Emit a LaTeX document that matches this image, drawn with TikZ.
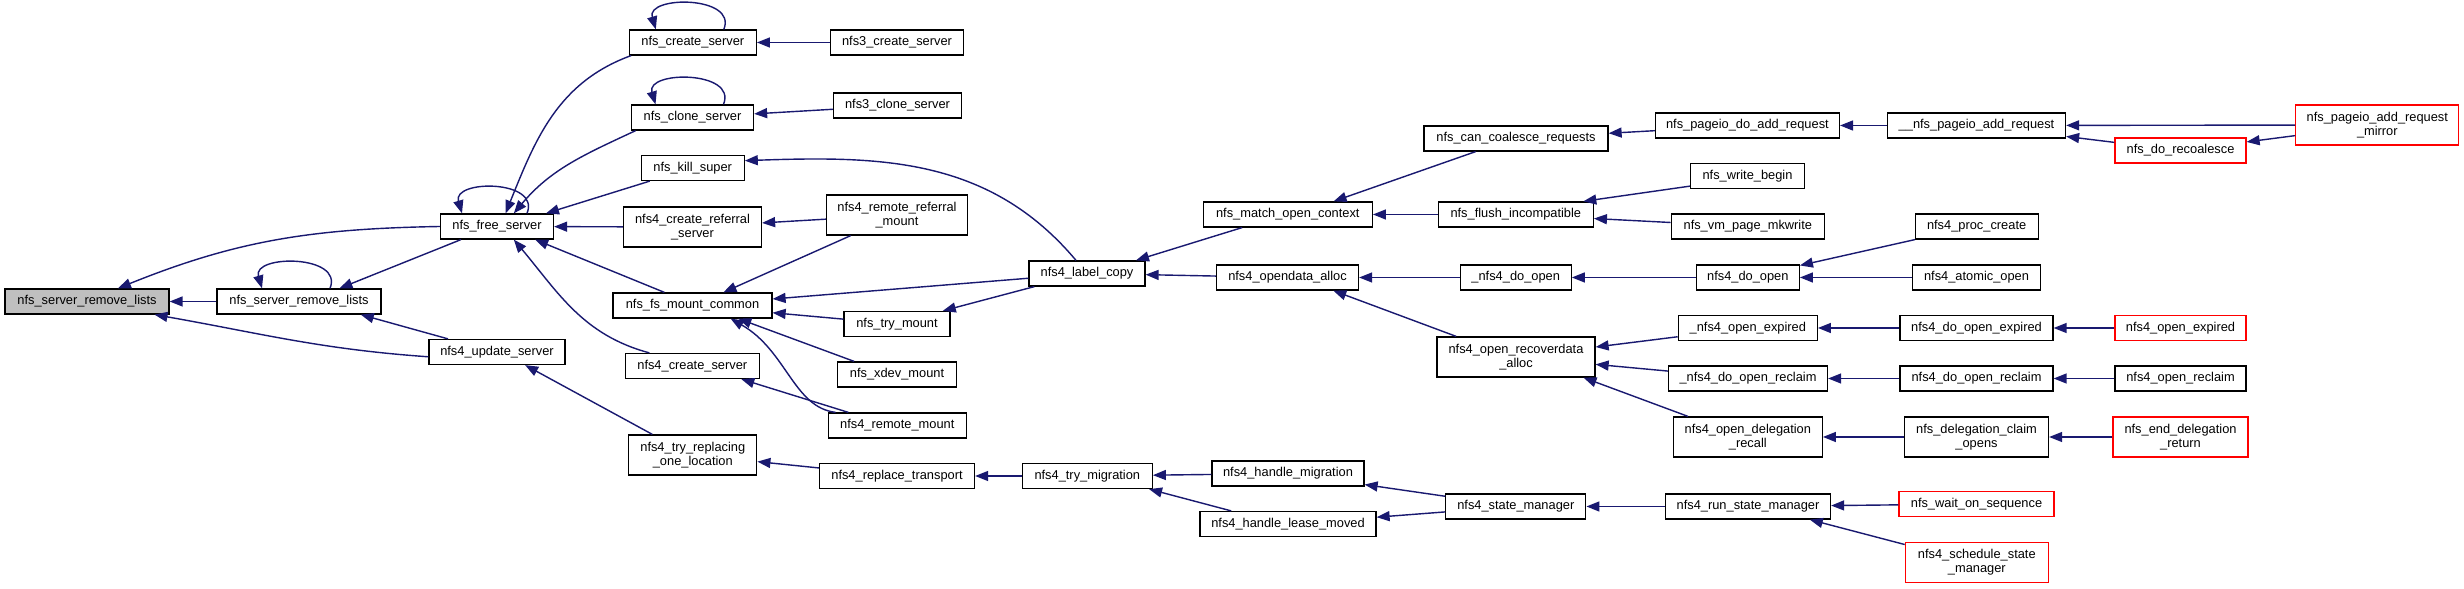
\documentclass[tikz,border=0pt]{standalone}
\usepackage{fontspec}
\setmainfont{Liberation Sans}
\usepackage{tikz}
\usetikzlibrary{arrows.meta,calc}
\definecolor{midblue}{HTML}{191970}
\definecolor{rootgrey}{HTML}{BFBFBF}
\newcommand{\fnfont}{\fontsize{3.65pt}{3.95pt}\selectfont}

\begin{document}
\begin{tikzpicture}[x=0.01cm, y=-0.01cm,
  fn/.style={draw=black, fill=white, line width=0.35pt, inner sep=0pt,
    minimum height=0.25cm, align=center, font=\fnfont},
  fntwo/.style={fn, minimum height=0.40cm},
  fnred/.style={draw=red},
  fnroot/.style={fill=rootgrey},
  wd/.style={minimum width={#1*0.01cm}},
  calls/.style={draw=midblue, line width=0.4pt,
    -{Triangle[length=0.13cm, width=0.10cm]}}]
  \useasboundingbox (0,0) rectangle (2464,589);
  % Left part
  \node[fn, fnroot, wd=164] (grl) at (87,301.5) {nfs\_server\_remove\_lists};
  \node[fn, wd=164] (srl) at (299,301.5) {nfs\_server\_remove\_lists};
  \node[fn, wd=113] (fre) at (497,226.5) {nfs\_free\_server};
  \node[fn, wd=136] (upd) at (497,352) {nfs4\_update\_server};
  % Callers of nfs_free_server
  \node[fn, wd=127] (ccs) at (692.8,42.5) {nfs\_create\_server};
  \node[fn, wd=133] (c3s) at (897,42.5) {nfs3\_create\_server};
  \node[fn, wd=122] (cls) at (692.5,117.5) {nfs\_clone\_server};
  \node[fn, wd=128] (c3l) at (897.5,105.5) {nfs3\_clone\_server};
  \node[fn, wd=103] (kil) at (692.7,168) {nfs\_kill\_super};
  \node[fntwo, wd=138] (crf) at (692.5,227) {nfs4\_create\_referral\\\_server};
  \node[fntwo, wd=141] (rrm) at (897,215) {nfs4\_remote\_referral\\\_mount};
  \node[fn, wd=116] (lab) at (1087,273.5) {nfs4\_label\_copy};
  \node[fn, wd=159] (fmc) at (692.5,305.5) {nfs\_fs\_mount\_common};
  \node[fn, wd=106] (trm) at (897,324) {nfs\_try\_mount};
  \node[fn, wd=134] (c4s) at (692.3,366) {nfs4\_create\_server};
  \node[fn, wd=119] (xdv) at (897,374.5) {nfs\_xdev\_mount};
  \node[fn, wd=138] (rmm) at (897.3,425.5) {nfs4\_remote\_mount};
  \node[fntwo, wd=128] (rol) at (692.8,455) {nfs4\_try\_replacing\\\_one\_location};
  \node[fn, wd=155] (rtr) at (897,476) {nfs4\_replace\_transport};
  \node[fn, wd=130] (tmg) at (1087.3,476) {nfs4\_try\_migration};
  % Middle columns
  \node[fn, wd=169] (moc) at (1287.8,214.5) {nfs\_match\_open\_context};
  \node[fn, wd=184] (ccr) at (1516,138.5) {nfs\_can\_coalesce\_requests};
  \node[fn, wd=184] (pda) at (1747.4,125.5) {nfs\_pageio\_do\_add\_request};
  \node[fn, wd=114] (wrb) at (1747.5,176) {nfs\_write\_begin};
  \node[fn, wd=155] (fli) at (1515.8,214.5) {nfs\_flush\_incompatible};
  \node[fn, wd=153] (vmp) at (1747.8,226.5) {nfs\_vm\_page\_mkwrite};
  \node[fn, wd=142] (oda) at (1287.5,277.5) {nfs4\_opendata\_alloc};
  \node[fn, wd=111] (udo) at (1515.7,277.5) {\_nfs4\_do\_open};
  \node[fn, wd=103] (dop) at (1747.8,277.5) {nfs4\_do\_open};
  \node[fntwo, wd=158] (ord) at (1516,357) {nfs4\_open\_recoverdata\\\_alloc};
  \node[fn, wd=139] (uoe) at (1747.8,328) {\_nfs4\_open\_expired};
  \node[fn, wd=159] (udr) at (1748,378.5) {\_nfs4\_do\_open\_reclaim};
  \node[fntwo, wd=149] (odr) at (1747.8,437) {nfs4\_open\_delegation\\\_recall};
  \node[fn, wd=152] (hmg) at (1288,473.5) {nfs4\_handle\_migration};
  \node[fn, wd=176] (hlm) at (1288,524) {nfs4\_handle\_lease\_moved};
  \node[fn, wd=140] (stm) at (1515.8,506.5) {nfs4\_state\_manager};
  \node[fn, wd=165] (rsm) at (1748,506.5) {nfs4\_run\_state\_manager};
  % Right columns
  \node[fn, wd=178] (par) at (1976.5,125.5) {\_\_nfs\_pageio\_add\_request};
  \node[fn, fnred, wd=131] (drc) at (2180.5,150.5) {nfs\_do\_recoalesce};
  \node[fntwo, fnred, wd=163] (pam) at (2377.3,125) {nfs\_pageio\_add\_request\\\_mirror};
  \node[fn, wd=123] (pcr) at (1976.6,226.5) {nfs4\_proc\_create};
  \node[fn, wd=128] (aop) at (1976.5,277.5) {nfs4\_atomic\_open};
  \node[fn, wd=153] (doe) at (1976.5,328) {nfs4\_do\_open\_expired};
  \node[fn, fnred, wd=131] (ope) at (2180.5,328) {nfs4\_open\_expired};
  \node[fn, wd=153] (dor) at (1976.5,378.5) {nfs4\_do\_open\_reclaim};
  \node[fn, wd=131] (opr) at (2180.5,378.5) {nfs4\_open\_reclaim};
  \node[fntwo, wd=144] (dco) at (1976.5,437) {nfs\_delegation\_claim\\\_opens};
  \node[fntwo, fnred, wd=135] (edr) at (2180.5,437) {nfs\_end\_delegation\\\_return};
  \node[fn, fnred, wd=155] (wos) at (1976.5,504) {nfs\_wait\_on\_sequence};
  \node[fntwo, fnred, wd=143] (ssm) at (1976.8,562.5) {nfs4\_schedule\_state\\\_manager};
  % Self loops
  \draw[calls] ($(fre.north)+(30,0)$) .. controls +(14,-34) and +(-10,-34) .. ($(fre.north)+(-35,0)$);
  \draw[calls] ($(srl.north)+(31,0)$) .. controls +(14,-34) and +(-10,-34) .. ($(srl.north)+(-37,0)$);
  \draw[calls] ($(ccs.north)+(31,0)$) .. controls +(14,-34) and +(-10,-34) .. ($(ccs.north)+(-37,0)$);
  \draw[calls] ($(cls.north)+(31,0)$) .. controls +(14,-34) and +(-10,-34) .. ($(cls.north)+(-37,0)$);
  % Edges into the root
  \draw[calls] (fre.west) to[out=181, in=22] (grl.23);
  \draw[calls] (srl) -- (grl);
  \draw[calls] (upd.184) to[out=176, in=-10] (grl.-11);
  \draw[calls] (fre.200) -- (srl.18);
  \draw[calls] (upd.165) -- (srl.-12);
  % Edges into nfs_free_server
  \draw[calls] (ccs.192) to[out=200, in=68] (fre.57);
  \draw[calls] (cls.193) to[out=205, in=50] (fre.38);
  \draw[calls] (kil.197) -- (fre.15);
  \draw[calls] (crf) -- (fre);
  \draw[calls] (fmc.155) -- (fre.-19);
  \draw[calls] (c4s.163) to[out=165, in=-50] (fre.-38);
  \draw[calls] (rol.153) -- (upd.-25);
  % Third column
  \draw[calls] (c3s) -- (ccs);
  \draw[calls] (c3l) -- (cls);
  \draw[calls] (lab.130) to[out=130, in=2] (kil.8);
  \draw[calls] (rrm) -- (crf);
  \draw[calls] (rrm.204) -- (fmc.23);
  \draw[calls] (lab) -- (fmc);
  \draw[calls] (trm) -- (fmc);
  \draw[calls] (xdv.163) -- (fmc.-16);
  \draw[calls] (rmm.168) .. controls +(-42,-5) and +(56,32) .. (fmc.-19);
  \draw[calls] (rmm.165) -- (c4s.-15);
  \draw[calls] (lab.194) -- (trm.16);
  \draw[calls] (rtr) -- (rol);
  \draw[calls] (tmg) -- (rtr);
  % Middle
  \draw[calls] (moc.196) -- (lab.15);
  \draw[calls] (oda) -- (lab);
  \draw[calls] (hmg) -- (tmg);
  \draw[calls] (hlm.167) -- (tmg.-12);
  \draw[calls] (ccr.198) -- (moc.16);
  \draw[calls] (fli) -- (moc);
  \draw[calls] (pda) -- (ccr);
  \draw[calls] (wrb.190) -- (fli.11);
  \draw[calls] (vmp) -- (fli);
  \draw[calls] (udo) -- (oda);
  \draw[calls] (ord.161) -- (oda.-16);
  \draw[calls] (dop) -- (udo);
  \draw[calls] (uoe) -- (ord);
  \draw[calls] (udr) -- (ord);
  \draw[calls] (odr.161) -- (ord.-17);
  \draw[calls] (stm) -- (hmg);
  \draw[calls] (stm) -- (hlm);
  \draw[calls] (rsm) -- (stm);
  % Right
  \draw[calls] (par) -- (pda);
  \draw[calls] (pam) -- (par);
  \draw[calls] (drc) -- (par);
  \draw[calls] (pam) -- (drc);
  \draw[calls] (pcr.192) -- (dop.13);
  \draw[calls] (aop) -- (dop);
  \draw[calls] (doe) -- (uoe);
  \draw[calls] (ope) -- (doe);
  \draw[calls] (dor) -- (udr);
  \draw[calls] (opr) -- (dor);
  \draw[calls] (dco) -- (odr);
  \draw[calls] (edr) -- (dco);
  \draw[calls] (wos) -- (rsm);
  \draw[calls] (ssm.166) -- (rsm.-12);
\end{tikzpicture}
\end{document}
